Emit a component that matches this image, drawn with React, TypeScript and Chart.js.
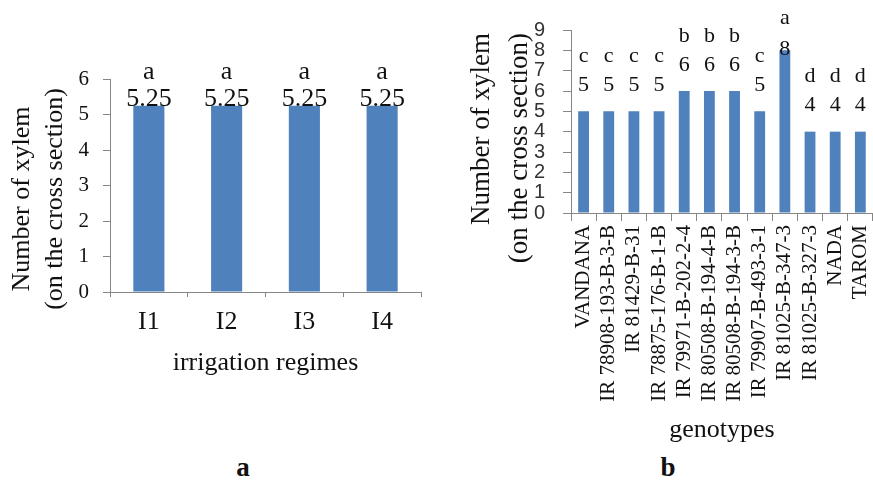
import React, { useEffect, useRef } from 'react';
import { Chart, registerables } from 'chart.js';

Chart.register(...registerables);

// ---------- data ----------
const regimes = ['I1', 'I2', 'I3', 'I4'];
const regimeValues = [5.25, 5.25, 5.25, 5.25];
const regimeLetters = ['a', 'a', 'a', 'a'];
const regimeTicks = [0, 1, 2, 3, 4, 5, 6];

const genotypes = [
  'VANDANA',
  'IR 78908-193-B-3-B',
  'IR 81429-B-31',
  'IR 78875-176-B-1-B',
  'IR 79971-B-202-2-4',
  'IR 80508-B-194-4-B',
  'IR 80508-B-194-3-B',
  'IR 79907-B-493-3-1',
  'IR 81025-B-347-3',
  'IR 81025-B-327-3',
  'NADA',
  'TAROM',
];
const genotypeValues = [5, 5, 5, 5, 6, 6, 6, 5, 8, 4, 4, 4];
const genotypeLetters = ['c', 'c', 'c', 'c', 'b', 'b', 'b', 'c', 'a', 'd', 'd', 'd'];
const genotypeTicks = [0, 1, 2, 3, 4, 5, 6, 7, 8, 9];

const yTitleLines = ['Number of xylem', '(on the cross section)'];

// ---------- style ----------
const SERIF = "'Times New Roman', 'Liberation Serif', serif";
const SANS = "Arial, 'Liberation Sans', sans-serif";
const BLUE = '#4F81BD';
const AXIS = '#868686';
const INK = '#111111';

const barLabels = {
  id: 'barLabels',
  afterDatasetsDraw(chart: any, _args: any, opts: any) {
    const { ctx } = chart;
    const meta = chart.getDatasetMeta(0);
    const ds = chart.data.datasets[0];
    ctx.save();
    ctx.fillStyle = INK;
    ctx.textAlign = 'center';
    ctx.textBaseline = 'middle';
    ctx.font = `${opts.size}px ${SERIF}`;
    meta.data.forEach((bar: any, i: number) => {
      let numY = bar.y - opts.numGap;
      let letY = numY - opts.letterGap;
      if (letY < opts.minLetterY) {
        letY = opts.minLetterY;
        numY = letY + opts.clampGap;
      }
      ctx.fillText(String(ds.data[i]), bar.x, numY);
      ctx.fillText(opts.letters[i], bar.x, letY);
    });
    ctx.restore();
  },
};

const yTitle = {
  id: 'yTitle',
  afterDraw(chart: any, _args: any, opts: any) {
    const { ctx } = chart;
    ctx.save();
    ctx.fillStyle = INK;
    ctx.font = `${opts.size}px ${SERIF}`;
    ctx.textBaseline = 'middle';
    ctx.textAlign = opts.align;
    opts.lines.forEach((t: string, i: number) => {
      ctx.save();
      ctx.translate(opts.xs[i], opts.y);
      ctx.rotate(-Math.PI / 2);
      ctx.fillText(t, 0, 0);
      ctx.restore();
    });
    ctx.restore();
  },
};

function makeA(canvas: HTMLCanvasElement) {
  return new Chart(canvas, {
    type: 'bar',
    data: {
      labels: regimes,
      datasets: [
        {
          data: regimeValues,
          backgroundColor: BLUE,
          categoryPercentage: 1,
          barPercentage: 0.4,
        },
      ],
    },
    plugins: [barLabels, yTitle],
    options: {
      animation: false,
      responsive: false,
      layout: { padding: { top: 79, right: 19, left: 0, bottom: 0 } },
      plugins: {
        legend: { display: false },
        tooltip: { enabled: false },
        barLabels: { size: 26, numGap: 6, letterGap: 27, minLetterY: 0, clampGap: 27, letters: regimeLetters },
        yTitle: { lines: yTitleLines, xs: [22, 55], y: 199, align: 'center', size: 26 },
      } as any,
      scales: {
        x: {
          grid: { display: true, drawOnChartArea: false, drawTicks: true, tickLength: 5, color: AXIS },
          border: { color: AXIS },
          ticks: { font: { family: SERIF, size: 26 }, color: INK, padding: 10, maxRotation: 0 },
          title: {
            display: true,
            text: 'irrigation regimes',
            font: { family: SERIF, size: 26 },
            color: INK,
            padding: { top: 0, bottom: 21 },
          },
          afterFit: (s: any) => {
            s.height = 108;
          },
        },
        y: {
          min: regimeTicks[0],
          max: regimeTicks[regimeTicks.length - 1],
          afterBuildTicks: (s: any) => {
            s.ticks = regimeTicks.map((v) => ({ value: v }));
          },
          ticks: { font: { family: SERIF, size: 21 }, color: INK, padding: 14, autoSkip: false },
          grid: { drawOnChartArea: false, drawTicks: true, tickLength: 7, color: AXIS },
          border: { color: AXIS },
          afterFit: (s: any) => {
            s.width = 110;
          },
        },
      },
    } as any,
  });
}

function makeB(canvas: HTMLCanvasElement) {
  return new Chart(canvas, {
    type: 'bar',
    data: {
      labels: genotypes,
      datasets: [
        {
          data: genotypeValues,
          backgroundColor: BLUE,
          categoryPercentage: 1,
          barPercentage: 0.43,
        },
      ],
    },
    plugins: [barLabels, yTitle],
    options: {
      animation: false,
      responsive: false,
      layout: { padding: { top: 26, right: 11, left: 0, bottom: 0 } },
      plugins: {
        legend: { display: false },
        tooltip: { enabled: false },
        barLabels: { size: 22, numGap: 26, letterGap: 29, minLetterY: 18, clampGap: 31, letters: genotypeLetters },
        yTitle: { lines: yTitleLines, xs: [42, 80], y: 33, align: 'right', size: 27 },
      } as any,
      scales: {
        x: {
          grid: { display: true, drawOnChartArea: false, drawTicks: true, tickLength: 8, color: AXIS },
          border: { color: AXIS },
          ticks: {
            font: { family: SERIF, size: 21 },
            color: INK,
            padding: 4,
            maxRotation: 90,
            minRotation: 90,
            autoSkip: false,
          },
          title: {
            display: true,
            text: 'genotypes',
            font: { family: SERIF, size: 26 },
            color: INK,
            padding: { top: 0, bottom: 4 },
          },
          afterFit: (s: any) => {
            s.height = 237;
          },
        },
        y: {
          min: genotypeTicks[0],
          max: genotypeTicks[genotypeTicks.length - 1],
          afterBuildTicks: (s: any) => {
            s.ticks = genotypeTicks.map((v) => ({ value: v }));
          },
          ticks: { font: { family: SANS, size: 20 }, color: '#333333', padding: 18, autoSkip: false },
          grid: { drawOnChartArea: false, drawTicks: true, tickLength: 8, color: AXIS },
          border: { color: AXIS },
          afterFit: (s: any) => {
            s.width = 131;
          },
        },
      },
    } as any,
  });
}

export default function App() {
  const refA = useRef<HTMLCanvasElement>(null);
  const refB = useRef<HTMLCanvasElement>(null);

  useEffect(() => {
    const a = refA.current ? makeA(refA.current) : null;
    const b = refB.current ? makeB(refB.current) : null;
    return () => {
      a?.destroy();
      b?.destroy();
    };
  }, []);

  const panelLabel: React.CSSProperties = {
    position: 'absolute',
    top: 467,
    transform: 'translate(-50%, -50%)',
    fontFamily: SERIF,
    fontWeight: 'bold',
    fontSize: 27,
    color: INK,
    lineHeight: 1,
  };

  return (
    <div
      style={{
        position: 'fixed',
        left: 0,
        top: 0,
        width: 873,
        height: 482,
        overflow: 'hidden',
        background: '#ffffff',
      }}
    >
      <canvas
        ref={refA}
        width={440}
        height={400}
        style={{ position: 'absolute', left: 0, top: 0, width: 440, height: 400 }}
      />
      <canvas
        ref={refB}
        width={450}
        height={450}
        style={{ position: 'absolute', left: 440, top: 0, width: 450, height: 450 }}
      />
      <div style={{ ...panelLabel, left: 243 }}>a</div>
      <div style={{ ...panelLabel, left: 668 }}>b</div>
    </div>
  );
}
